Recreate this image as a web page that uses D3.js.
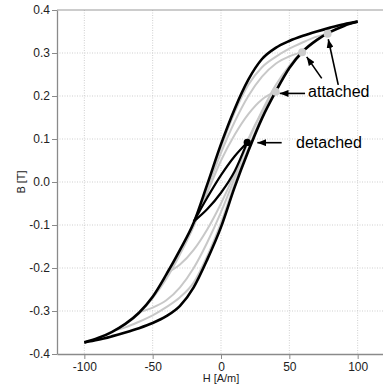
<!DOCTYPE html>
<html>
<head>
<meta charset="utf-8">
<script src="https://cdn.jsdelivr.net/npm/d3@7"></script>
<style>
body { margin: 0; background: #fff; }
text { font-family: "Liberation Sans", Arial, Helvetica, sans-serif; }
</style>
</head>
<body>
<svg id="chart" width="383" height="385"></svg>
<script>
// axis ticks
var xTicks = [-100, -50, 0, 50, 100];
var xTickLabels = ["-100", "-50", "0", "50", "100"];
var yTicks = [-0.4, -0.3, -0.2, -0.1, 0.0, 0.1, 0.2, 0.3, 0.4];
var yTickLabels = ["-0.4", "-0.3", "-0.2", "-0.1", "0.0", "0.1", "0.2", "0.3", "0.4"];

// major loop, [H, B], both branches listed by increasing H
var majorDescending = [[-100,-0.373],[-90,-0.363],[-80,-0.349],[-70,-0.330],[-60,-0.304],[-50,-0.267],
	[-40,-0.215],[-30,-0.158],[-20,-0.095],[-10,-0.005],[0,0.088],[10,0.170],[20,0.238],[30,0.286],
	[40,0.312],[50,0.328],[60,0.340],[70,0.350],[80,0.359],[90,0.367],[100,0.373]];
var majorAscending = [[-100,-0.373],[-90,-0.367],[-80,-0.359],[-70,-0.350],[-60,-0.340],[-50,-0.328],
	[-40,-0.312],[-30,-0.288],[-20,-0.245],[-10,-0.180],[0,-0.105],[10,-0.012],[20,0.072],[30,0.148],
	[40,0.210],[50,0.265],[60,0.304],[70,0.330],[80,0.349],[90,0.363],[100,0.373]];

// grey minor loops (tips at 40, 59.4, 78 A/m)
var loop40Asc = [[-40,-0.212],[-30,-0.192],[-20,-0.158],[-10,-0.110],[0,-0.050],[10,0.020],[20,0.100],[30,0.162],[40,0.210]];
var loop40Desc = [[-40,-0.212],[-30,-0.165],[-20,-0.102],[-10,-0.025],[0,0.050],[10,0.110],[20,0.158],[30,0.192],[40,0.210]];
var loop59Asc = [[-59.4,-0.302],[-50,-0.292],[-40,-0.275],[-30,-0.245],[-20,-0.200],[-10,-0.140],[0,-0.070],
	[10,0.010],[20,0.095],[30,0.165],[40,0.225],[50,0.270],[59.4,0.302]];
var loop59Desc = [[-59.4,-0.302],[-50,-0.270],[-40,-0.225],[-30,-0.168],[-20,-0.102],[-10,-0.015],[0,0.068],
	[10,0.140],[20,0.200],[30,0.245],[40,0.275],[50,0.292],[59.4,0.302]];
var loop78Asc = [[-78,-0.345],[-70,-0.338],[-60,-0.325],[-50,-0.310],[-40,-0.291],[-30,-0.268],[-20,-0.234],
	[-10,-0.172],[0,-0.095],[10,-0.004],[20,0.078],[30,0.153],[40,0.214],[50,0.268],[60,0.306],[70,0.331],[78,0.345]];
var loop78Desc = [[-78,-0.345],[-70,-0.331],[-60,-0.306],[-50,-0.269],[-40,-0.218],[-30,-0.161],[-20,-0.099],
	[-10,-0.010],[0,0.081],[10,0.162],[20,0.226],[30,0.267],[40,0.291],[50,0.310],[60,0.325],[70,0.338],[78,0.345]];

// small black "detached" loop
var detachedAsc = [[-20,-0.092],[-10,-0.063],[0,-0.025],[10,0.025],[19.2,0.092]];
var detachedDesc = [[-20,-0.092],[-10,-0.036],[0,0.016],[10,0.060],[19.2,0.092]];

var attachedPoints = [[40,0.210],[59.4,0.302],[78,0.345]];
var detachedPoint = [19.2,0.092];

// annotation arrows: [fromH, fromB, toH, toB]
var arrows = [[61.5,0.206,43,0.206],[73.7,0.241,62.7,0.291],[85.8,0.226,78.5,0.332],[44.4,0.0914,26.6,0.0914]];
var labels = [["attached",63.7,0.198],["detached",54.9,0.080]];

var svg = d3.select("#chart");
var x = d3.scaleLinear().domain([-120, 120]).range([57, 385]);
var y = d3.scaleLinear().domain([-0.4, 0.4]).range([354, 10]);

// grid
svg.append("g").selectAll("line")
	.data(yTicks.filter(function(d) { return Math.abs(d) < 0.35; }))
	.enter().append("line")
	.attr("x1", 57).attr("x2", 385)
	.attr("y1", function(d) { return y(d); }).attr("y2", function(d) { return y(d); })
	.attr("stroke", "#cfcfcf").attr("stroke-width", 1).attr("stroke-dasharray", "1,1.5");
svg.append("g").selectAll("line")
	.data(xTicks)
	.enter().append("line")
	.attr("y1", 10).attr("y2", 354)
	.attr("x1", function(d) { return x(d); }).attr("x2", function(d) { return x(d); })
	.attr("stroke", "#cfcfcf").attr("stroke-width", 1).attr("stroke-dasharray", "1,1.5");
svg.append("line").attr("x1", 57).attr("x2", 385).attr("y1", y(0.4)).attr("y2", y(0.4))
	.attr("stroke", "#9a9a9a").attr("stroke-width", 1.2);

// axes
var yAxis = svg.append("g").attr("transform", "translate(57,0)")
	.call(d3.axisLeft(y).tickValues(yTicks).tickFormat(function(d, i) { return yTickLabels[i]; })
		.tickSize(5).tickSizeOuter(0).tickPadding(2));
var xAxis = svg.append("g").attr("transform", "translate(0,354)")
	.call(d3.axisBottom(x).tickValues(xTicks).tickFormat(function(d, i) { return xTickLabels[i]; })
		.tickSize(5).tickSizeOuter(0).tickPadding(3));
svg.selectAll(".domain").attr("stroke", "#8a8a8a").attr("stroke-width", 1.3);
svg.selectAll(".tick line").attr("stroke", "#8a8a8a");
svg.selectAll(".tick text").attr("font-size", 12).attr("fill", "#222")
	.style("font-family", "'Liberation Sans', Arial, sans-serif");

svg.append("text").attr("x", 221).attr("y", 382).attr("text-anchor", "middle")
	.attr("font-size", 11).attr("fill", "#222").text("H [A/m]");
svg.append("text").attr("transform", "translate(25,182) rotate(-90)").attr("text-anchor", "middle")
	.attr("font-size", 11).attr("fill", "#222").text("B [T]");

var line = d3.line()
	.x(function(d) { return x(d[0]); })
	.y(function(d) { return y(d[1]); })
	.curve(d3.curveMonotoneX);

var greyCurves = [loop40Asc, loop40Desc, loop59Asc, loop59Desc, loop78Asc, loop78Desc];
svg.append("g").selectAll("path").data(greyCurves).enter().append("path")
	.attr("d", line).attr("fill", "none").attr("stroke", "#c8c8c8").attr("stroke-width", 2);

svg.append("g").selectAll("path").data([majorDescending, majorAscending]).enter().append("path")
	.attr("d", line).attr("fill", "none").attr("stroke", "#000").attr("stroke-width", 2.6)
	.attr("stroke-linejoin", "miter");

svg.append("g").selectAll("path").data([detachedAsc, detachedDesc]).enter().append("path")
	.attr("d", line).attr("fill", "none").attr("stroke", "#000").attr("stroke-width", 2.2);

svg.append("g").selectAll("circle").data(attachedPoints).enter().append("circle")
	.attr("cx", function(d) { return x(d[0]); }).attr("cy", function(d) { return y(d[1]); })
	.attr("r", 4).attr("fill", "#cdcdcd");
svg.append("circle").attr("cx", x(detachedPoint[0])).attr("cy", y(detachedPoint[1]))
	.attr("r", 3.6).attr("fill", "#000");

// arrows
svg.append("defs").append("marker")
	.attr("id", "head").attr("viewBox", "0 0 10 8").attr("refX", 10).attr("refY", 4)
	.attr("markerUnits", "userSpaceOnUse").attr("markerWidth", 9).attr("markerHeight", 7)
	.attr("orient", "auto")
	.append("path").attr("d", "M0,0 L10,4 L0,8 Z").attr("fill", "#000");

svg.append("g").selectAll("line").data(arrows).enter().append("line")
	.attr("x1", function(d) { return x(d[0]); }).attr("y1", function(d) { return y(d[1]); })
	.attr("x2", function(d) { return x(d[2]); }).attr("y2", function(d) { return y(d[3]); })
	.attr("stroke", "#000").attr("stroke-width", 1.6).attr("marker-end", "url(#head)");

svg.append("g").selectAll("text").data(labels).enter().append("text")
	.attr("x", function(d) { return x(d[1]); }).attr("y", function(d) { return y(d[2]); })
	.attr("font-size", 16).attr("fill", "#000").text(function(d) { return d[0]; });
</script>
</body>
</html>
